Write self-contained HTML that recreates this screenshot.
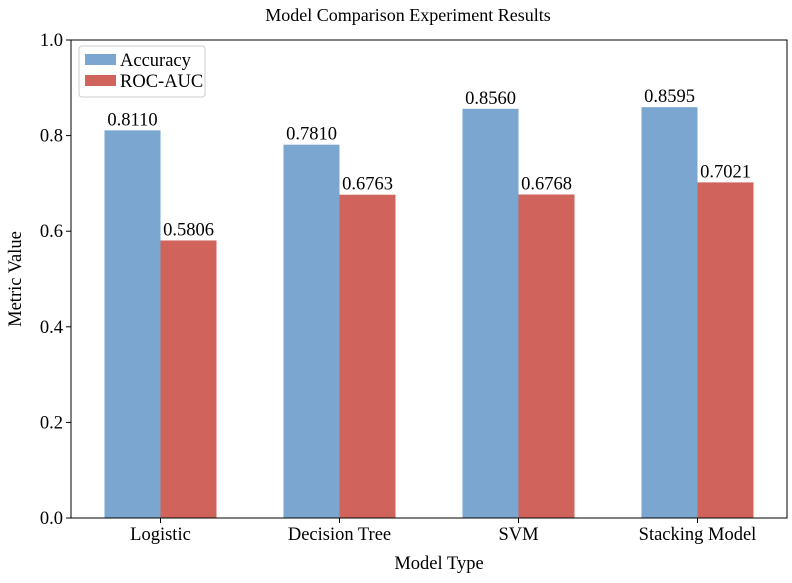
<!DOCTYPE html>
<html><head><meta charset="utf-8"><style>
body{margin:0;background:#fff;font-family:"Liberation Serif",serif;}
svg text{font-family:"Liberation Serif",serif;fill:#000;}
</style></head><body>
<svg id="chart" width="792" height="578">
<text x="408" y="21" font-size="18" text-anchor="middle">Model Comparison Experiment Results</text>
<text x="439" y="569" font-size="18.5" text-anchor="middle">Model Type</text>
<text transform="translate(21,279) rotate(-90)" font-size="18.5" text-anchor="middle">Metric Value</text>
<g id="bars"></g>
<g id="axes"></g>
<g>
<rect x="79" y="46" width="126" height="51" fill="#fff" stroke="#ccc" rx="3"/>
<rect x="85" y="54" width="31" height="11" fill="#7aa6d0"/>
<text x="120" y="66" font-size="18.5">Accuracy</text>
<rect x="85" y="75" width="31" height="11" fill="#d0635b"/>
<text x="120" y="87" font-size="18.5">ROC-AUC</text>
</g>
</svg>
<script>
const categories=["Logistic","Decision Tree","SVM","Stacking Model"];
const accuracy=[0.8110,0.7810,0.8560,0.8595];
const rocAuc=[0.5806,0.6763,0.6768,0.7021];
const yTicks=[0,0.2,0.4,0.6,0.8,1.0];
const NS="http://www.w3.org/2000/svg";
const L=71,R=787,T=40,B=518;
const x=i=>L+(i+0.5)*(R-L)/categories.length;
const y=v=>B-v*(B-T);
const bw=56;
const bars=document.getElementById('bars'),axes=document.getElementById('axes');
function mk(tag,at,p){const e=document.createElementNS(NS,tag);for(const k in at)e.setAttribute(k,at[k]);p.appendChild(e);return e;}
categories.forEach((c,i)=>{
 [[accuracy,-1,"#7aa6d0","accuracy"],[rocAuc,0,"#d0635b","roc-auc"]].forEach(([arr,off,col,nm])=>{
  const x0=x(i)+off*bw,v=arr[i];
  const r=mk('rect',{x:x0,y:y(v),width:bw,height:B-y(v),fill:col},bars);
  
  
  const t=mk('text',{x:x0+bw/2,y:y(v)-5,'font-size':18.5,'text-anchor':'middle'},bars);
  t.textContent=v.toFixed(4);
  
  
 });
 mk('line',{x1:x(i),x2:x(i),y1:B,y2:B+5,stroke:'#000'},axes);
 const t=mk('text',{x:x(i),y:B+22,'font-size':18.5,'text-anchor':'middle'},axes);
 t.textContent=c;
 
 
});
yTicks.forEach(v=>{
 mk('line',{x1:L-5,x2:L,y1:y(v),y2:y(v),stroke:'#000'},axes);
 const t=mk('text',{x:L-8,y:y(v)+6,'font-size':18.5,'text-anchor':'end'},axes);
 t.textContent=v.toFixed(1);
 
 
});
const f=mk('rect',{x:L,y:T,width:R-L,height:B-T,fill:'none',stroke:'#000','stroke-width':1},axes);


</script>
</body></html>
